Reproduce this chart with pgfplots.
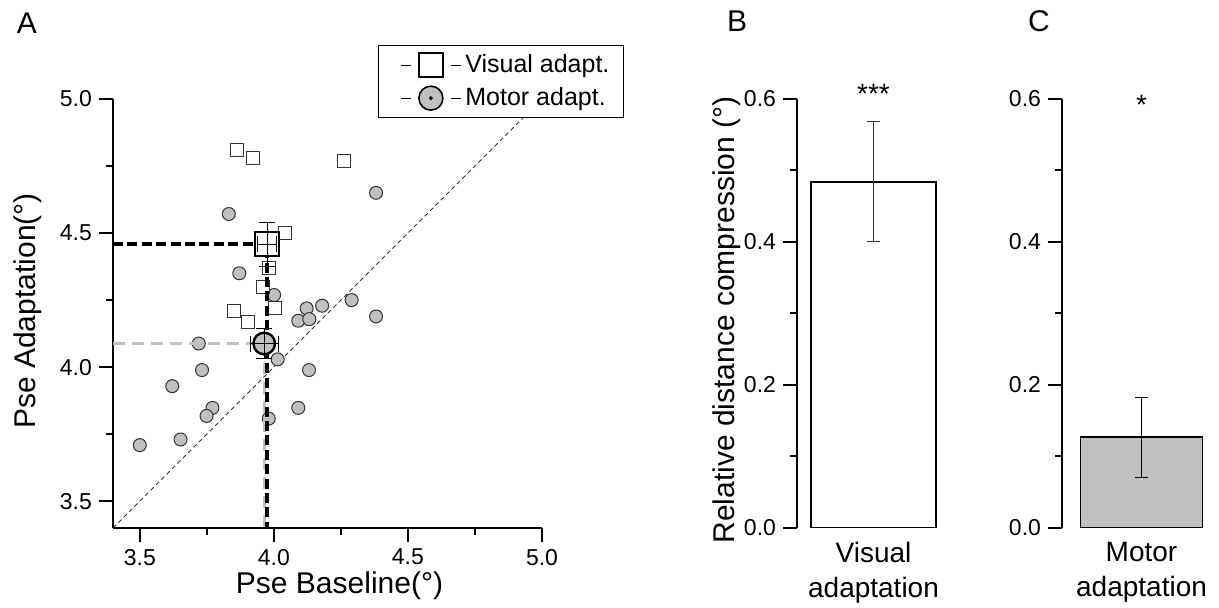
\documentclass[border=0pt]{standalone}
\usepackage{pgfplots}
\pgfplotsset{compat=1.18}
\usepackage{fontspec}
\setmainfont{Liberation Sans}
\definecolor{fillgray}{HTML}{C0C0C0}
\definecolor{edgegray}{HTML}{333333}

\pgfplotsset{
  panel/.style={
    scale only axis,
    axis x line*=bottom, axis y line*=left,
    axis line style={line width=1pt, black},
    tick align=outside,
    major tick length=7pt, minor tick length=3.5pt,
    tick style={black, line width=1pt},
    tick label style={font=\fontsize{11.5}{13}\selectfont},
    label style={font=\fontsize{15}{17}\selectfont},
    /pgf/number format/assume math mode=true,
    /pgf/number format/fixed, /pgf/number format/fixed zerofill,
    /pgf/number format/precision=1,
  },
}
\newcommand{\legfont}{\fontsize{12.5}{14}\selectfont}

\begin{document}
\begin{tikzpicture}
\useasboundingbox (0,0) rectangle (609.5pt,304pt);

% ---- A: scatter
\begin{axis}[panel, at={(56.5pt,40pt)}, anchor=south west,
  width=214.5pt, height=214.5pt,
  xmin=3.4, xmax=5.0, ymin=3.4, ymax=5.0,
  xtick={3.5,4.0,4.5,5.0}, ytick={3.5,4.0,4.5,5.0}, minor tick num=1,
  xlabel={Pse Baseline(°)}, ylabel={Pse Adaptation(°)},
  xlabel style={at={(axis description cs:0.528,-0.1538)}, anchor=base},
  ylabel style={at={(axis description cs:-0.1795,0.5058)}, anchor=base},
  clip marker paths=true,
  legend style={at={(1.1911,1.1259)}, anchor=north east, draw=black,
    line width=0.5pt, font=\legfont,
    inner xsep=5pt, inner ysep=2.5pt, row sep=2pt,
    /tikz/every even column/.append style={column sep=2pt}},
  legend cell align=left,
]
\addplot[forget plot, black!80, line width=0.5pt, dash pattern=on 2.2pt off 1.6pt]
  coordinates {(3.4,3.4) (5.0,5.0)};
% motor adaptation, single subjects
\addplot[forget plot, only marks, mark=*, mark size=3.25pt,
  mark options={fill=fillgray, draw=edgegray, line width=0.5pt}] coordinates {
  (3.832,4.571) (3.871,4.350) (4.001,4.269) (4.122,4.219) (4.180,4.229)
  (4.091,4.173) (4.132,4.179) (4.290,4.250) (4.381,4.189) (4.381,4.650)
  (3.720,4.088) (4.014,4.029) (3.732,3.989) (4.131,3.989) (3.621,3.929)
  (3.771,3.848) (3.749,3.818) (4.091,3.848) (3.981,3.808) (3.652,3.730)
  (3.500,3.709)};
% visual adaptation, single subjects
\addplot[forget plot, only marks, mark=square*, mark size=3.25pt,
  mark options={fill=white, draw=edgegray, line width=0.5pt}] coordinates {
  (3.861,4.810) (3.923,4.780) (4.262,4.770) (4.041,4.499) (3.981,4.368)
  (3.960,4.297) (4.004,4.219) (3.851,4.210) (3.902,4.167)};
% projections of the means
\addplot[forget plot, fillgray, line width=1.6pt, dash pattern=on 6pt off 3.5pt]
  coordinates {(3.4,4.088) (3.964,4.088) (3.964,3.4)};
\addplot[forget plot, black, line width=1.7pt, dash pattern=on 5pt off 2.2pt]
  coordinates {(3.4,4.459) (3.975,4.459) (3.975,3.4)};
% means
\addplot[forget plot, only marks, mark=square*, mark size=6pt,
  mark options={fill=white, draw=black, line width=1.2pt}] coordinates {(3.975,4.459)};
\addplot[forget plot, only marks, mark=*, mark size=5.4pt,
  mark options={fill=fillgray, draw=black, line width=1.2pt}] coordinates {(3.964,4.088)};
\addplot[forget plot, draw=none, mark=none,
  error bars/.cd, x dir=both, x explicit, y dir=both, y explicit,
  error bar style={draw=black, line width=0.5pt},
  error mark options={rotate=90, draw=black, mark size=4pt, line width=0.5pt}]
  coordinates {(3.975,4.459) +- (0.036,0.082) (3.964,4.088) +- (0.052,0.056)};
\addlegendimage{legend image code/.code={
    \path[draw=none, fill=none] (0pt,0pt) -- (36pt,0pt);
    \draw[black, solid, line width=0.5pt] (6pt,0pt) -- (11pt,0pt);
    \draw[black, solid, line width=0.5pt] (31pt,0pt) -- (36pt,0pt);
    \draw[black, line width=0.8pt, fill=white] plot[mark=square*, mark size=6pt,
      mark options={fill=white, draw=black, line width=0.8pt}] coordinates {(21pt,0pt)};}}
\addlegendentry{\legfont Visual adapt.}
\addlegendimage{legend image code/.code={
    \path[draw=none, fill=none] (0pt,0pt) -- (36pt,0pt);
    \draw[black, solid, line width=0.5pt] (6pt,0pt) -- (11pt,0pt);
    \draw[black, solid, line width=0.5pt] (31pt,0pt) -- (36pt,0pt);
    \draw[black, line width=0.8pt, fill=fillgray] plot[mark=*, mark size=6pt,
      mark options={fill=fillgray, draw=black, line width=0.8pt}] coordinates {(21pt,0pt)};
    \fill[black] (21pt,0pt) circle[radius=0.7pt];}}
\addlegendentry{\legfont Motor adapt.}
\end{axis}

% ---- B: visual adaptation
\begin{axis}[panel, ybar, at={(398.5pt,40pt)}, anchor=south west,
  width=76.5pt, height=214.5pt,
  xmin=0, xmax=1, ymin=0, ymax=0.6,
  ytick={0,0.2,0.4,0.6}, minor y tick num=1,
  xtick={0.5}, xticklabels={{Visual\\adaptation}},
  x axis line style={draw=none}, xtick style={draw=none},
  xticklabel style={align=center, font=\fontsize{14}{17.5}\selectfont, yshift=3.5pt},
  ylabel={Relative distance compression (°)},
  ylabel style={at={(axis description cs:-0.4118,0.485)}, anchor=base},
  clip mode=individual,
]
\addplot[draw=black, line width=0.7pt, fill=white, bar width=62.5pt,
  error bars/.cd, y dir=both, y explicit,
  error bar style={line width=0.5pt, draw=edgegray},
  error mark options={rotate=90, mark size=3.25pt, line width=0.5pt, draw=edgegray}]
  coordinates {(0.5,0.484) +- (0,0.084)};
\node[anchor=base, font=\fontsize{14}{16}\selectfont] at (axis cs:0.5,0.594) {***};
\end{axis}

% ---- C: motor adaptation
\begin{axis}[panel, ybar, at={(531pt,40pt)}, anchor=south west,
  width=77.5pt, height=214.5pt,
  xmin=0, xmax=1, ymin=0, ymax=0.6,
  ytick={0,0.2,0.4,0.6}, minor y tick num=1,
  xtick={0.513}, xticklabels={{Motor\\adaptation}},
  x axis line style={draw=none}, xtick style={draw=none},
  xticklabel style={align=center, font=\fontsize{14}{17.5}\selectfont, yshift=3.5pt},
  clip mode=individual,
]
\addplot[draw=black, line width=0.7pt, fill=fillgray, bar width=60.8pt,
  error bars/.cd, y dir=both, y explicit,
  error bar style={line width=0.5pt, draw=black},
  error mark options={rotate=90, mark size=3.25pt, line width=0.5pt, draw=black}]
  coordinates {(0.513,0.127) +- (0,0.056)};
\node[anchor=base, font=\fontsize{14}{16}\selectfont] at (axis cs:0.513,0.578) {*};
\end{axis}

\node[font=\fontsize{15}{18}\selectfont] at (13.5pt,292.5pt) {A};
\node[font=\fontsize{15}{18}\selectfont] at (368.5pt,293.25pt) {B};
\node[font=\fontsize{15}{18}\selectfont] at (519.5pt,293.25pt) {C};
\end{tikzpicture}
\end{document}
